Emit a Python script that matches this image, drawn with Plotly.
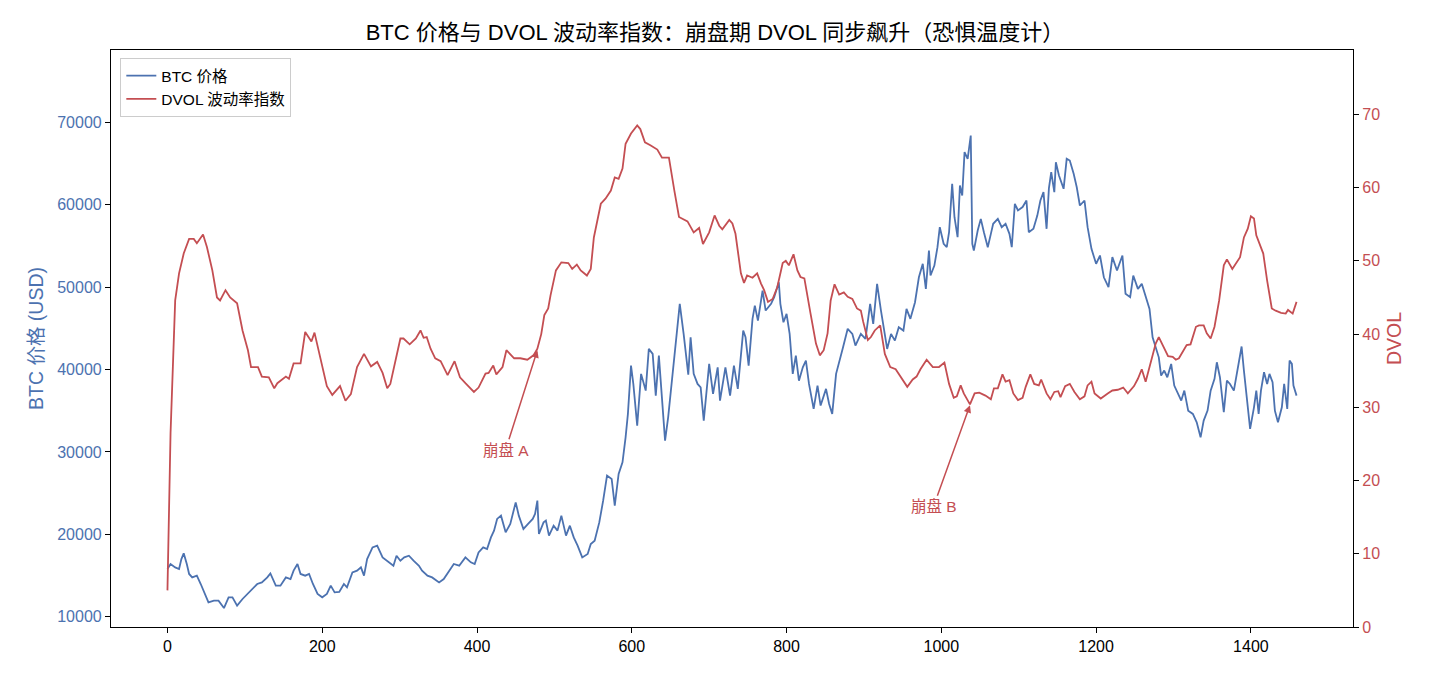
import plotly.graph_objects as go

# ---- data ----
dvol_day = [0, 4, 10, 15, 21, 28, 34, 38, 46, 51, 58, 64, 68, 75, 81, 90, 97, 104, 108, 117,
            122, 131, 138, 142, 153, 157, 163, 172, 178, 186, 190, 197, 206, 213, 223, 230, 237,
            245, 254, 263, 271, 278, 284, 288, 295, 301, 305, 313, 321, 327, 331, 335, 340, 346,
            353, 362, 371, 378, 385, 396, 402, 411, 415, 421, 425, 433, 438, 448, 456, 465, 473,
            478, 483, 487, 492, 495, 502, 509, 518, 523, 529, 534, 542, 547, 551, 560, 566, 573,
            578, 583, 588, 592, 599, 607, 611, 617, 624, 633, 639, 648, 655, 661, 672, 680, 687,
            692, 700, 707, 713, 717, 726, 730, 734, 737, 741, 745, 749, 756, 762, 767, 771, 776,
            782, 788, 795, 799, 803, 809, 814, 818, 823, 831, 838, 843, 848, 853, 857, 862, 868,
            874, 879, 885, 891, 896, 899, 905, 909, 914, 921, 927, 934, 941, 948, 956, 963, 968,
            973, 981, 989, 997, 1004, 1010, 1016, 1020, 1025, 1029, 1037, 1043, 1049, 1057, 1064,
            1068, 1073, 1079, 1083, 1088, 1093, 1099, 1105, 1109, 1115, 1120, 1126, 1129, 1136,
            1141, 1146, 1151, 1154, 1160, 1166, 1172, 1179, 1185, 1189, 1194, 1198, 1206, 1215,
            1221, 1228, 1235, 1241, 1249, 1254, 1259, 1264, 1271, 1277, 1281, 1288, 1293, 1299,
            1303, 1307, 1312, 1317, 1322, 1329, 1333, 1339, 1343, 1348, 1353, 1359, 1365, 1369,
            1376, 1382, 1386, 1391, 1396, 1400, 1404, 1407, 1411, 1416, 1421, 1427, 1432, 1439,
            1445, 1448, 1454, 1459]
dvol_value = [5.0, 26.5, 44.6, 48.3, 51.0, 53.0, 53.0, 52.4, 53.6, 51.9, 48.7, 45.0, 44.6, 46.0,
              45.0, 44.2, 40.5, 37.8, 35.5, 35.5, 34.2, 34.1, 32.6, 33.3, 34.2, 33.9, 36.0, 36.0,
              40.3, 39.0, 40.2, 36.9, 32.9, 31.7, 32.9, 30.9, 31.8, 35.5, 37.3, 35.6, 36.2, 34.7,
              32.6, 33.2, 36.4, 39.4, 39.4, 38.6, 39.4, 40.5, 39.5, 39.6, 38.0, 36.7, 36.3, 34.4,
              36.3, 34.1, 33.3, 32.1, 32.7, 34.6, 34.7, 35.7, 34.5, 35.5, 37.8, 36.7, 36.7, 36.5,
              37.1, 38.0, 40.0, 42.6, 43.5, 45.3, 48.7, 49.8, 49.7, 48.9, 49.5, 48.7, 48.0, 48.9,
              53.2, 57.8, 58.5, 59.6, 61.4, 61.2, 62.6, 66.0, 67.4, 68.5, 68.0, 66.2, 65.8, 65.2,
              64.1, 64.1, 59.6, 56.0, 55.4, 53.9, 54.5, 52.3, 53.9, 56.2, 54.8, 54.3, 55.6, 55.1,
              53.7, 51.4, 48.3, 47.0, 48.0, 47.7, 48.3, 46.9, 46.0, 44.4, 44.8, 46.4, 49.7, 50.0,
              49.4, 50.9, 48.7, 47.8, 47.6, 42.8, 38.7, 37.1, 37.8, 40.1, 44.6, 46.8, 45.4, 45.7,
              45.1, 44.8, 43.5, 43.2, 41.7, 39.2, 39.6, 40.5, 41.2, 37.3, 35.5, 35.2, 34.1, 32.8,
              33.8, 34.2, 35.2, 36.5, 35.5, 35.5, 36.1, 33.2, 31.3, 31.5, 33.0, 31.9, 30.4, 31.9,
              32.0, 31.6, 31.1, 32.6, 32.6, 34.5, 33.5, 33.7, 31.9, 31.0, 31.3, 32.8, 34.5, 33.2,
              33.0, 33.8, 31.9, 31.1, 32.1, 32.2, 31.4, 32.9, 33.2, 32.1, 31.1, 31.5, 33.0, 33.5,
              31.9, 31.2, 31.9, 32.3, 32.4, 32.7, 31.9, 32.9, 33.9, 35.2, 33.5, 36.4, 38.7, 39.6,
              38.0, 37.0, 36.9, 36.5, 36.7, 37.7, 38.5, 38.6, 41.0, 41.2, 41.2, 40.1, 39.4, 41.0,
              44.6, 49.4, 50.2, 48.9, 49.8, 50.5, 53.2, 54.4, 56.1, 55.8, 53.5, 52.3, 51.0, 47.3,
              43.5, 43.2, 42.9, 42.8, 43.3, 42.8, 44.4]

btc_day = [0, 4, 10, 15, 18, 21, 25, 28, 32, 38, 43, 48, 53, 60, 66, 73, 79, 84, 90, 97, 103,
           110, 116, 122, 129, 133, 140, 146, 153, 159, 163, 168, 172, 178, 183, 188, 194, 200,
           206, 211, 216, 222, 228, 232, 239, 245, 250, 254, 258, 265, 271, 278, 284, 292, 296,
           301, 306, 312, 318, 325, 329, 336, 342, 351, 357, 364, 370, 377, 385, 392, 397, 402,
           408, 413, 418, 422, 426, 431, 437, 443, 450, 454, 460, 466, 472, 475, 478, 480, 486,
           489, 493, 499, 504, 509, 515, 520, 525, 530, 536, 543, 547, 552, 558, 563, 568, 574,
           578, 583, 588, 592, 595, 599, 602, 607, 612, 618, 622, 627, 631, 635, 643, 647, 652,
           657, 662, 667, 673, 676, 680, 685, 689, 693, 700, 705, 711, 714, 721, 727, 732, 737,
           741, 744, 747, 751, 756, 759, 763, 769, 773, 780, 784, 790, 792, 796, 800, 804, 808,
           812, 816, 821, 825, 829, 835, 840, 844, 851, 855, 859, 864, 870, 873, 879, 885, 889,
           896, 902, 908, 912, 917, 922, 926, 930, 935, 940, 945, 951, 955, 960, 966, 971, 976,
           980, 984, 986, 991, 995, 998, 1003, 1007, 1010, 1014, 1017, 1021, 1024, 1027, 1030,
           1034, 1038, 1040, 1042, 1047, 1051, 1055, 1060, 1064, 1067, 1073, 1078, 1083, 1088,
           1091, 1095, 1099, 1105, 1110, 1113, 1119, 1124, 1128, 1132, 1136, 1139, 1142, 1146,
           1148, 1152, 1158, 1162, 1166, 1171, 1175, 1179, 1185, 1189, 1194, 1200, 1205, 1210,
           1216, 1221, 1227, 1232, 1234, 1238, 1244, 1248, 1254, 1259, 1264, 1269, 1273, 1277,
           1281, 1284, 1288, 1292, 1297, 1301, 1306, 1310, 1314, 1319, 1325, 1330, 1335, 1339,
           1344, 1348, 1353, 1356, 1360, 1365, 1369, 1373, 1378, 1381, 1385, 1388, 1391, 1396,
           1399, 1404, 1407, 1410, 1413, 1417, 1421, 1424, 1428, 1431, 1435, 1440, 1443, 1447,
           1450, 1453, 1455, 1459]
btc_price = [15800, 16400, 15990, 15790, 17000, 17690, 16400, 15190, 14770, 14980, 13970, 12760,
             11740, 11940, 11940, 11050, 12350, 12350, 11340, 12150, 12760, 13360, 13970, 14170,
             14770, 15260, 13770, 13770, 14770, 14570, 15590, 16400, 15190, 14980, 15190, 13970,
             12760, 12350, 12760, 13770, 12950, 13000, 13970, 13560, 15380, 15590, 15990, 14980,
             17000, 18420, 18620, 17200, 16800, 16190, 17400, 16800, 17200, 17400, 16800, 16190,
             15590, 14980, 14770, 14170, 14570, 15590, 16400, 16190, 17200, 16600, 16400, 17810,
             18420, 18220, 19630, 20450, 21870, 22270, 20240, 21260, 23880, 22270, 20650, 21260,
             21870, 22470, 24090, 20040, 21450, 21660, 19840, 21050, 20450, 22270, 19840, 21050,
             19630, 18620, 17200, 17610, 18830, 19230, 21450, 24090, 27130, 26720, 23480, 27330,
             28740, 31780, 34620, 40490, 38260, 33200, 39480, 37450, 42510, 41900, 36840, 41700,
             31380, 34210, 38660, 42710, 47980, 44340, 39390, 43920, 39480, 38260, 37850, 33810,
             40690, 37050, 40280, 36240, 40280, 36840, 40490, 37660, 42300, 44740, 43920, 40490,
             46160, 47770, 45950, 49600, 47170, 47980, 48790, 50600, 47980, 45750, 46770, 44340,
             39480, 41700, 38660, 40280, 41090, 38260, 35230, 38060, 35630, 37660, 35830, 34620,
             39480, 41490, 42710, 44950, 44340, 42920, 44340, 43730, 47980, 45550, 50410, 47170,
             44740, 42510, 44340, 43520, 45140, 44740, 47370, 46160, 48180, 51210, 52840, 49800,
             54450, 51420, 52630, 54860, 57290, 55270, 54860, 56680, 62560, 58500, 56070, 62350,
             61140, 66400, 65590, 68420, 55270, 54450, 56880, 58300, 56680, 54860, 56480, 57700,
             58300, 57290, 57700, 56480, 54860, 60130, 59320, 59730, 60530, 56680, 57090, 58700,
             60530, 61540, 57090, 62000, 63970, 61540, 65180, 63560, 61950, 65590, 65380, 63770,
             62140, 59920, 60530, 57290, 54660, 52840, 53850, 51210, 50000, 53650, 52030, 53240,
             53850, 49200, 48790, 51420, 49800, 50410, 48790, 47370, 43920, 42710, 41490, 39270,
             39880, 39070, 40690, 38060, 37050, 36240, 37450, 35020, 34620, 33600, 31780, 33810,
             35020, 37450, 38870, 40890, 39070, 34820, 38660, 38260, 37450, 39070, 41090, 42800,
             39880, 35420, 32800, 35420, 37450, 34620, 37450, 39680, 38260, 39480, 38460, 35020,
             33600, 35420, 38260, 35230, 41090, 40690, 38060, 36840]

x_ticks = [0, 200, 400, 600, 800, 1000, 1200, 1400]
btc_ticks = [10000, 20000, 30000, 40000, 50000, 60000, 70000]
dvol_ticks = [0, 10, 20, 30, 40, 50, 60, 70]

# annotations: (label, arrow tip day, tip DVOL, text day, text DVOL)
crash_labels = ["崩盘 A", "崩盘 B"]
crash_tip_day = [478, 1037]
crash_tip_dvol = [37.8, 30.3]
crash_text_day = [437, 990]
crash_text_dvol = [24.2, 16.5]

BLUE = "#4C72B0"
RED = "#C44E52"
FONT = "Liberation Sans, Arial, Noto Sans CJK SC, sans-serif"

fig = go.Figure()
fig.add_trace(go.Scatter(x=btc_day, y=btc_price, mode="lines", name="BTC 价格",
                         line=dict(color=BLUE, width=1.8), yaxis="y"))
fig.add_trace(go.Scatter(x=dvol_day, y=dvol_value, mode="lines", name="DVOL 波动率指数",
                         line=dict(color=RED, width=1.8), yaxis="y2"))

for lab, tx, ty, sx, sy in zip(crash_labels, crash_tip_day, crash_tip_dvol,
                               crash_text_day, crash_text_dvol):
    fig.add_annotation(x=tx, y=ty, xref="x", yref="y2", ax=sx, ay=sy, axref="x", ayref="y2",
                       text=lab, showarrow=True, arrowhead=2, arrowsize=1, arrowwidth=1.5,
                       arrowcolor=RED, font=dict(color=RED, size=15.5, family=FONT),
                       standoff=0, startstandoff=0)

axis_common = dict(showgrid=False, zeroline=False, showline=True, linecolor="black",
                   linewidth=1.2, ticks="outside", ticklen=5, tickcolor="black")

fig.update_layout(
    width=1430, height=676,
    margin=dict(l=111, r=77, t=50, b=49, autoexpand=False),
    paper_bgcolor="white", plot_bgcolor="white",
    font=dict(family=FONT, size=16, color="black"),
    title=dict(text="BTC 价格与 DVOL 波动率指数：崩盘期 DVOL 同步飙升（恐惧温度计）",
               x=0.5, xref="container", y=1 - 32 / 676, yref="container",
               xanchor="center", yanchor="middle", font=dict(size=22, color="black")),
    xaxis=dict(range=[-72.95, 1531.95], tickvals=x_ticks, mirror=True,
               tickfont=dict(size=16, color="black"), **axis_common),
    yaxis=dict(range=[8750, 78800], tickvals=btc_ticks, side="left", tickformat="d",
               title=dict(text="BTC 价格 (USD)", font=dict(color=BLUE, size=19.5), standoff=8),
               tickfont=dict(color=BLUE, size=16), **axis_common),
    yaxis2=dict(range=[0, 78.8], tickvals=dvol_ticks, overlaying="y", side="right",
                title=dict(text="DVOL", font=dict(color=RED, size=19.5), standoff=8),
                tickfont=dict(color=RED, size=16), **axis_common),
    legend=dict(x=0.0075, y=0.986, xanchor="left", yanchor="top",
                bgcolor="rgba(255,255,255,0.9)", bordercolor="#cccccc", borderwidth=1,
                font=dict(size=15.5, color="black"), tracegroupgap=0, itemwidth=30),
    showlegend=True,
)

fig.write_html("out.html")
